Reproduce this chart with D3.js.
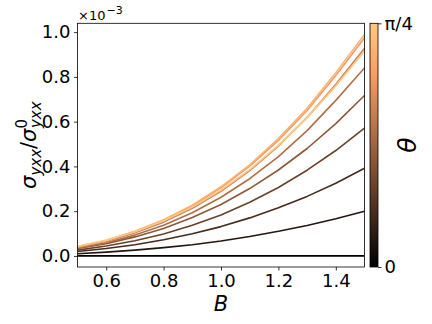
<!DOCTYPE html>
<html>
<head>
<meta charset="utf-8">
<script src="https://cdn.jsdelivr.net/npm/d3@7"></script>
<style>
body { margin: 0; background: #fff; }
text { font-family: "DejaVu Sans", sans-serif; fill: #000; }
</style>
</head>
<body>
<svg width="432" height="324"></svg>
<script>
// field values B
var bVals = [0.5, 0.6, 0.7, 0.8, 0.9, 1.0, 1.1, 1.2, 1.3, 1.4, 1.5];
// theta as a fraction of pi/4 (colour position)
var thetaFrac = [0, 1/9, 2/9, 3/9, 4/9, 5/9, 6/9, 7/9, 8/9, 1];
// sigma_yxx / sigma0 in units of 1e-3, one row per theta
var sigmaRows = [
    [0, 0, 0, 0, 0, 0, 0, 0, 0, 0, 0],
    [0.010, 0.017, 0.026, 0.037, 0.050, 0.067, 0.087, 0.110, 0.136, 0.166, 0.200],
    [0.020, 0.033, 0.050, 0.072, 0.099, 0.131, 0.170, 0.215, 0.266, 0.325, 0.392],
    [0.026, 0.044, 0.068, 0.098, 0.137, 0.183, 0.240, 0.306, 0.383, 0.471, 0.571],
    [0.033, 0.055, 0.085, 0.123, 0.172, 0.230, 0.301, 0.384, 0.480, 0.591, 0.717],
    [0.035, 0.059, 0.093, 0.137, 0.193, 0.262, 0.345, 0.444, 0.560, 0.695, 0.840],
    [0.039, 0.066, 0.103, 0.151, 0.213, 0.289, 0.381, 0.491, 0.619, 0.767, 0.928],
    [0.041, 0.069, 0.108, 0.159, 0.224, 0.304, 0.401, 0.516, 0.650, 0.806, 0.975],
    [0.041, 0.070, 0.110, 0.162, 0.227, 0.309, 0.407, 0.524, 0.660, 0.819, 0.990],
    [0.043, 0.070, 0.108, 0.157, 0.218, 0.294, 0.386, 0.494, 0.618, 0.760, 0.915]
];
var xTicks = [0.6, 0.8, 1.0, 1.2, 1.4];
var yTicks = [0.0, 0.2, 0.4, 0.6, 0.8, 1.0];

var svg = d3.select("svg");
var pLeft = 77.5, pRight = 364.5, pTop = 23.3, pBottom = 267;

var x = d3.scaleLinear().domain([0.5, 1.5]).range([pLeft, pRight]);
var y = d3.scaleLinear().domain([-0.0495, 1.0395]).range([pBottom, pTop]);

// matplotlib "copper"
function copper(t) {
    var r = Math.min(1, t / 0.809524), g = 0.7812 * t, b = 0.4975 * t;
    return d3.rgb(r * 255, g * 255, b * 255).toString();
}

var line = d3.line()
    .x(function (d, i) { return x(bVals[i]); })
    .y(function (d) { return y(d); });

var defs = svg.append("defs");
defs.append("clipPath").attr("id", "clip")
    .append("rect").attr("x", pLeft).attr("y", pTop)
    .attr("width", pRight - pLeft).attr("height", pBottom - pTop);

svg.append("g").attr("clip-path", "url(#clip)")
    .selectAll("path")
    .data(sigmaRows)
    .enter().append("path")
    .attr("d", line)
    .attr("fill", "none")
    .attr("stroke", function (d, i) { return copper(thetaFrac[i]); })
    .attr("stroke-width", 1.6)
    .attr("stroke-linejoin", "round");

// axes
var xAxis = svg.append("g").attr("transform", "translate(0," + pBottom + ")")
    .call(d3.axisBottom(x).tickValues(xTicks).tickSize(3.5).tickPadding(3.5).tickFormat(d3.format(".1f")));
var yAxis = svg.append("g").attr("transform", "translate(" + pLeft + ",0)")
    .call(d3.axisLeft(y).tickValues(yTicks).tickSize(3.5).tickPadding(3.5).tickFormat(d3.format(".1f")));
[xAxis, yAxis].forEach(function (a) {
    a.select(".domain").remove();
    a.selectAll("line").attr("stroke", "#000").attr("stroke-width", 0.8);
    a.selectAll("text").style("font-size", "18px").style("font-family", "DejaVu Sans");
});

svg.append("rect")
    .attr("x", pLeft).attr("y", pTop)
    .attr("width", pRight - pLeft).attr("height", pBottom - pTop)
    .attr("fill", "none").attr("stroke", "#000").attr("stroke-width", 0.8);

// offset text
var off = svg.append("text").attr("x", 78).attr("y", 20).style("font-size", "13px");
off.append("tspan").text("×10");
off.append("tspan").attr("dx", 1).attr("dy", -6).style("font-size", "11px").text("−3");

// axis labels
svg.append("text")
    .attr("x", x(1.0)).attr("y", 311)
    .attr("text-anchor", "middle")
    .style("font-size", "21px").style("font-style", "italic")
    .text("B");

var yl = svg.append("text")
    .attr("transform", "translate(36," + ((pTop + pBottom) / 2) + ") rotate(-90)")
    .attr("text-anchor", "middle")
    .style("font-size", "21px");
yl.append("tspan").style("font-style", "italic").text("σ");
yl.append("tspan").attr("dy", 5).style("font-size", "15px").style("font-style", "italic").text("yxx");
yl.append("tspan").attr("dy", -5).text("/");
yl.append("tspan").style("font-style", "italic").text("σ");
yl.append("tspan").attr("dy", -9).style("font-size", "15px").text("0");
yl.append("tspan").attr("dx", -9).attr("dy", 14).style("font-size", "15px").style("font-style", "italic").text("yxx");

// colorbar
var cbX = 370, cbW = 8;
var grad = defs.append("linearGradient")
    .attr("id", "cmap").attr("x1", 0).attr("y1", 1).attr("x2", 0).attr("y2", 0);
d3.range(0, 1.0001, 0.05).forEach(function (t) {
    grad.append("stop").attr("offset", t).attr("stop-color", copper(t));
});
svg.append("rect")
    .attr("x", cbX).attr("y", pTop).attr("width", cbW).attr("height", pBottom - pTop)
    .attr("fill", "url(#cmap)").attr("stroke", "#000").attr("stroke-width", 0.8);

var cScale = d3.scaleLinear().domain([0, 1]).range([pBottom, pTop]);
var cAxis = svg.append("g").attr("transform", "translate(" + (cbX + cbW) + ",0)")
    .call(d3.axisRight(cScale).tickValues([0, 1]).tickSize(3.5).tickPadding(3)
        .tickFormat(function (d) { return d === 0 ? "0" : "π/4"; }));
cAxis.select(".domain").remove();
cAxis.selectAll("line").attr("stroke", "#000").attr("stroke-width", 0.8);
cAxis.selectAll("text").style("font-size", "18px").style("font-family", "DejaVu Sans");

svg.append("text")
    .attr("transform", "translate(416," + ((pTop + pBottom) / 2) + ") rotate(-90)")
    .attr("text-anchor", "middle")
    .style("font-size", "25px").style("font-style", "italic")
    .text("θ");
</script>
</body>
</html>
